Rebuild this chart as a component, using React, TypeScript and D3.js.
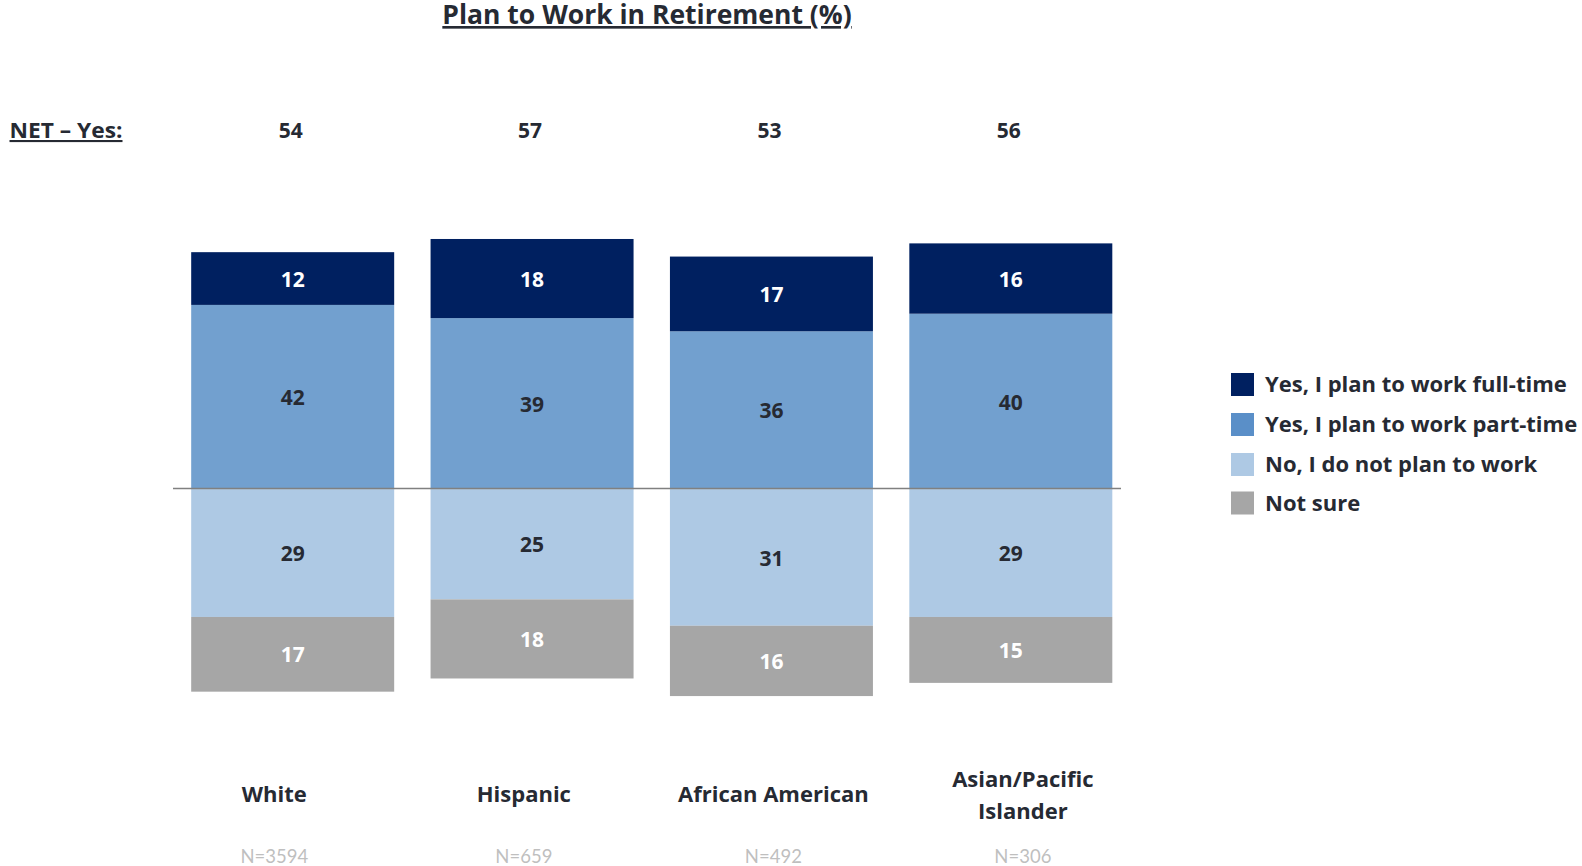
import React from "react";
import * as d3 from "d3";

const categories = ["White", "Hispanic", "African American", "Asian/Pacific Islander"];
const categoryLines = [["White"], ["Hispanic"], ["African American"], ["Asian/Pacific", "Islander"]];
const sampleSizes = ["N=3594", "N=659", "N=492", "N=306"];
const netYes = [54, 57, 53, 56];
const fullTime = [12, 18, 17, 16];
const partTime = [42, 39, 36, 40];
const noPlan = [29, 25, 31, 29];
const notSure = [17, 18, 16, 15];
const seriesNames = [
  "Yes, I plan to work full-time",
  "Yes, I plan to work part-time",
  "No, I do not plan to work",
  "Not sure",
];

const W = 1582;
const H = 866;
const FONT = "'Open Sans', Lato, sans-serif";
const FONT_N = "Lato, 'Open Sans', sans-serif";
const TEXT = "#262a33";

const barColors = ["#002060", "#72a0cf", "#aec9e4", "#a6a6a6"];
const legendColors = ["#002060", "#5a8fc8", "#aec9e4", "#a6a6a6"];
const labelColors = ["#ffffff", TEXT, TEXT, "#ffffff"];

export default function App() {
  const x = d3
    .scaleBand<string>()
    .domain(categories)
    .range([173, 1130.5])
    .paddingInner(0.152)
    .paddingOuter(0.076);
  const xLabel = d3.scaleBand<string>().domain(categories).range([149.6, 1147.6]);
  const y = d3.scaleLinear().domain([-50, 60]).range([709.25, 225.8]);

  const segs: { cat: string; s: number; v: number; y0: number; y1: number }[] = [];
  categories.forEach((c, i) => {
    segs.push({ cat: c, s: 1, v: partTime[i], y0: 0, y1: partTime[i] });
    segs.push({ cat: c, s: 0, v: fullTime[i], y0: partTime[i], y1: partTime[i] + fullTime[i] });
    segs.push({ cat: c, s: 2, v: noPlan[i], y0: -noPlan[i], y1: 0 });
    segs.push({ cat: c, s: 3, v: notSure[i], y0: -noPlan[i] - notSure[i], y1: -noPlan[i] });
  });

  const bw = x.bandwidth();

  return (
    <svg
      width={W}
      height={H}
      style={{ position: "absolute", left: 0, top: 0, display: "block", background: "#fff" }}
      fontFamily={FONT}
    >
      <text x={647} y={24} textAnchor="middle" fontSize={26.5} fontWeight={700} fill={TEXT} textDecoration="underline">
        Plan to Work in Retirement (%)
      </text>

      <text
        x={9.5}
        y={138}
        fontSize={21}
        fontWeight={700}
        fill={TEXT}
        textDecoration="underline"
        textLength={113}
        lengthAdjust="spacingAndGlyphs"
      >
        NET – Yes:
      </text>
      {categories.map((c, i) => (
        <text key={c} x={(x(c) as number) + bw / 2 - 2} y={138} textAnchor="middle" fontSize={21} fontWeight={700} fill={TEXT}>
          {netYes[i]}
        </text>
      ))}

      {segs.map((d, k) => (
        <rect
          key={"r" + k}
          x={x(d.cat)}
          y={y(d.y1)}
          width={bw}
          height={y(d.y0) - y(d.y1)}
          fill={barColors[d.s]}
        />
      ))}
      {segs.map((d, k) => (
        <text
          key={"t" + k}
          x={(x(d.cat) as number) + bw / 2}
          y={(y(d.y0) + y(d.y1)) / 2}
          dy="0.38em"
          textAnchor="middle"
          fontSize={21}
          fontWeight={700}
          fill={labelColors[d.s]}
        >
          {d.v}
        </text>
      ))}

      <line x1={173} x2={1121} y1={y(0) - 1} y2={y(0) - 1} stroke="#808080" strokeWidth={1.5} />

      {categories.map((c, i) => {
        const lines = categoryLines[i];
        const cx = (xLabel(c) as number) + xLabel.bandwidth() / 2;
        const base = lines.length === 1 ? 802 : 787;
        return (
          <text key={"c" + c} textAnchor="middle" fontSize={22} fontWeight={700} fill={TEXT}>
            {lines.map((l, j) => (
              <tspan key={j} x={cx} y={base + j * 32}>
                {l}
              </tspan>
            ))}
          </text>
        );
      })}
      {categories.map((c, i) => (
        <text
          key={"n" + c}
          x={(xLabel(c) as number) + xLabel.bandwidth() / 2}
          y={863}
          textAnchor="middle"
          fontSize={18.5}
          fontFamily={FONT_N}
          fill="#bfbfbf"
        >
          {sampleSizes[i]}
        </text>
      ))}

      {seriesNames.map((s, i) => {
        const cy = [384.5, 424.5, 464.5, 503][i];
        return (
          <g key={s}>
            <rect x={1231} y={cy - 11.5} width={23} height={23} fill={legendColors[i]} />
            <text x={1265} y={cy} dy="0.36em" fontSize={22} fontWeight={700} fill={TEXT}>
              {s}
            </text>
          </g>
        );
      })}
    </svg>
  );
}
